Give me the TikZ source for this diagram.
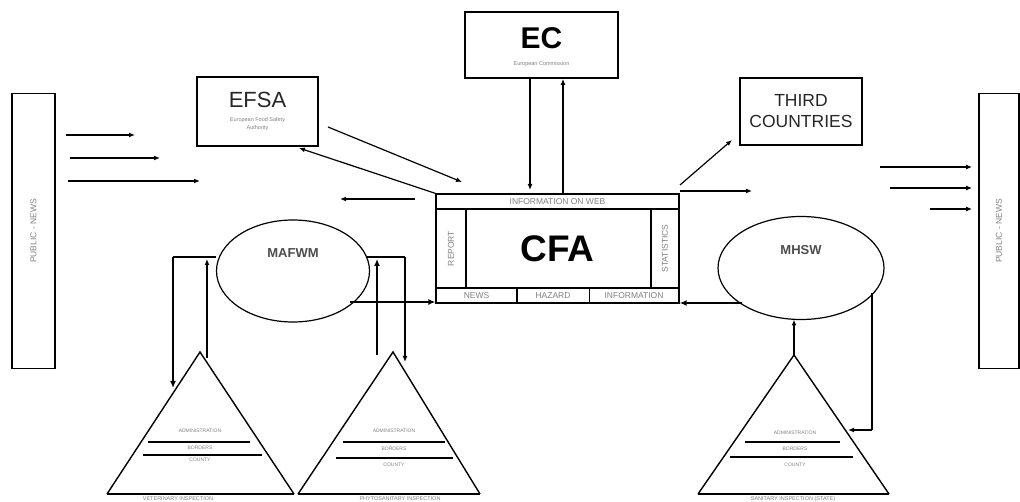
\documentclass[tikz,border=0pt]{standalone}
\usepackage{fontspec}
\setmainfont{Liberation Sans}
\usetikzlibrary{arrows.meta,shapes.geometric,calc}
\begin{document}
\begin{tikzpicture}[x=1pt,y=-1pt,
  box/.style={draw, line width=1.8pt, inner sep=0pt},
  cell/.style={draw, line width=1.1pt, inner sep=0pt},
  oval/.style={draw, ellipse, line width=1.2pt, inner sep=0pt},
  tri/.style={line width=1.4pt, line join=miter},
  base/.style={line width=2.4pt},
  level/.style={line width=1.6pt},
  thinarrow/.style={-{Latex[length=6pt,width=5pt]}, line width=1.2pt},
  thickarrow/.style={-{Latex[length=7pt,width=6pt]}, line width=2.3pt},
  plainline/.style={line width=1.2pt},
  thickline/.style={line width=2.3pt},
  greytxt/.style={text=black!50, inner sep=0pt},
  tiny/.style={greytxt, font=\fontsize{5}{6}\selectfont},
  small/.style={greytxt, font=\fontsize{6}{7}\selectfont},
  label/.style={greytxt, font=\fontsize{8.5}{10}\selectfont},
  bottomlabel/.style={greytxt, font=\fontsize{5.5}{6}\selectfont, anchor=north},
  ]
\useasboundingbox (0,0) rectangle (1020,502);

% PUBLIC - NEWS boxes
\node[box, minimum width=43pt, minimum height=275pt] (lpn) at (33.5,231) {};
\node[label, rotate=90] at (lpn) {PUBLIC - NEWS};
\node[box, minimum width=40pt, minimum height=275pt] (rpn) at (999,231) {};
\node[label, rotate=90] at (rpn) {PUBLIC - NEWS};

% EFSA
\node[box, minimum width=121pt, minimum height=69pt] (efsa) at (257.5,111.5) {};
\node[inner sep=0pt, font=\fontsize{22}{24}\selectfont, text=black!85] (efsat) at (257.5,100) {EFSA};
\node[small, align=center, font=\fontsize{5.5}{8}\selectfont] (efsas) at (257.5,124) {European Food Safety\\Authority};

% EC
\node[box, minimum width=153pt, minimum height=66pt] (ec) at (541.5,45) {};
\node[inner sep=0pt, font=\fontsize{30}{32}\bfseries\selectfont] (ect) at (541.5,38) {EC};
\node[small, font=\fontsize{5.5}{7}\selectfont] (ecs) at (541.5,64) {European Commission};

% THIRD COUNTRIES
\node[box, minimum width=122pt, minimum height=67pt] (tc) at (801,111.5) {};
\node[inner sep=0pt, align=center, font=\fontsize{17.5}{21}\selectfont, text=black!85] (tct) at (801,111.5) {THIRD\\COUNTRIES};

% CFA
\node[box, line width=1.3pt, minimum width=243pt, minimum height=109pt] (cfa) at (557.5,248.5) {};
\node[cell, minimum width=243pt, minimum height=15pt] (web) at (557.5,201.5) {};
\node[label] at (web) {INFORMATION ON WEB};
\node[cell, minimum width=30pt, minimum height=79pt] (rep) at (451,248.5) {};
\node[label, rotate=90] at (rep) {REPORT};
\node[cell, minimum width=28pt, minimum height=79pt] (sta) at (665,248.5) {};
\node[label, rotate=90] at (sta) {STATISTICS};
\node[cell, minimum width=81pt, minimum height=15pt] (news) at (476.5,295.5) {};
\node[label] at (news) {NEWS};
\node[cell, minimum width=73pt, minimum height=15pt] (haz) at (553,295.5) {};
\node[label] at (haz) {HAZARD};
\node[cell, minimum width=89pt, minimum height=15pt] (inf) at (634,295.5) {};
\node[label] at (inf) {INFORMATION};
\node[inner sep=0pt, font=\fontsize{37}{40}\bfseries\selectfont] (cfat) at (557.5,248.5) {CFA};

% Ministries
\node[oval, minimum width=153pt, minimum height=102pt] (mafwm) at (293,271) {};
\node[inner sep=0pt, font=\fontsize{13}{15}\bfseries\selectfont, text=black!70] at (293,253) {MAFWM};
\node[oval, minimum width=166pt, minimum height=103pt] (mhsw) at (801,268) {};
\node[inner sep=0pt, font=\fontsize{13}{15}\bfseries\selectfont, text=black!70] at (801,250) {MHSW};

% Triangles
\coordinate (t1a) at (200,352); \coordinate (t1l) at (107,494); \coordinate (t1r) at (294,494);
\coordinate (t2a) at (393,352); \coordinate (t2l) at (298,494); \coordinate (t2r) at (480,494);
\coordinate (t3a) at (794,355); \coordinate (t3l) at (698,494); \coordinate (t3r) at (889,494);
\draw[tri] (t1l) -- (t1a) -- (t1r);
\draw[base] (t1l) -- (t1r);
\draw[tri] (t2l) -- (t2a) -- (t2r);
\draw[base] (t2l) -- (t2r);
\draw[tri] (t3l) -- (t3a) -- (t3r);
\draw[base] (t3l) -- (t3r);

% levels in triangles
\draw[level] (148,442) -- (250,442);
\draw[level] (143,455) -- (262,455);
\node[tiny] at (200,431) {ADMINISTRATION};
\node[tiny] at (200,448) {BORDERS};
\node[tiny] at (200,460) {COUNTY};
\draw[level] (343,442) -- (445,442);
\draw[level] (336,458) -- (453,458);
\node[tiny] at (394,431) {ADMINISTRATION};
\node[tiny] at (394,449) {BORDERS};
\node[tiny] at (394,465) {COUNTY};
\draw[level] (745,442) -- (840,442);
\draw[level] (730,457) -- (853,457);
\node[tiny] at (795,433) {ADMINISTRATION};
\node[tiny] at (795,449) {BORDERS};
\node[tiny] at (795,465) {COUNTY};

% labels under triangles
\node[bottomlabel] (l1) at (178,496.3) {VETERINARY INSPECTION};
\node[bottomlabel] (l2) at (400,496.3) {PHYTOSANITARY INSPECTION};
\node[bottomlabel] (l3) at (793,496.3) {SANITARY INSPECTION (STATE)};

% news arrows, left
\coordinate (la1) at (66,135); \coordinate (la1e) at (135,135);
\coordinate (la2) at (70,158); \coordinate (la2e) at (160,158);
\coordinate (la3) at (68,181); \coordinate (la3e) at (200,181);
\draw[thinarrow, line width=1.8pt] (la1) -- (la1e);
\draw[thinarrow, line width=1.8pt] (la2) -- (la2e);
\draw[thinarrow, line width=1.8pt] (la3) -- (la3e);
% news arrows, right
\coordinate (ra1) at (880,167); \coordinate (ra1e) at (rpn.west |- ra1);
\coordinate (ra2) at (890,188); \coordinate (ra2e) at (rpn.west |- ra2);
\coordinate (ra3) at (930,209); \coordinate (ra3e) at (rpn.west |- ra3);
\draw[thinarrow, line width=1.6pt] (ra1) -- ([xshift=-6pt]ra1e);
\draw[thinarrow, line width=2pt] (ra2) -- ([xshift=-6pt]ra2e);
\draw[thinarrow, line width=2pt] (ra3) -- ([xshift=-6pt]ra3e);

% EFSA <-> CFA
\coordinate (ef1) at (328,127); \coordinate (ef1e) at (462,182);
\draw[thinarrow] (ef1) -- (ef1e);
\draw[thinarrow] (cfa.north west) -- (299,148);
% EC <-> CFA
\draw[thinarrow] (ec.south -| 530,0) -- (530,190);
\draw[thinarrow] (563,193) -- (ec.south -| 563,0);
% CFA -> THIRD COUNTRIES
\coordinate (tcs) at (680,185); \coordinate (tce) at (732,140);
\draw[thinarrow] (tcs) -- (tce);
% CFA -> MHSW (web)
\coordinate (webe) at (752,191);
\draw[thinarrow] (cfa.north east |- webe) -- (webe);
% CFA -> MAFWM
\coordinate (mafin) at (340,199); \coordinate (mafinS) at (415,199);
\draw[thinarrow] (mafinS) -- (mafin);
% MAFWM -> CFA
\draw[thickarrow] (350,302) -- (cfa.south west |- 0,302);
% MHSW -> CFA
\draw[thickarrow] (742,303) -- (cfa.south east |- 0,303);

% MAFWM <-> triangles
\coordinate (ml) at (216,257); \coordinate (mr) at (367,257);
\draw[thickline] (ml) -- (173,257);
\draw[thickarrow] (173,257) -- (173,388);
\draw[thinarrow] (207,358) -- (207,259);
\draw[plainline] (mr) -- (405,257);
\draw[thinarrow] (405,257) -- (405,362);
\draw[thickarrow] (377,355) -- (377,259);

% MHSW <-> triangle
\coordinate (mhb) at (794,319.5);
\draw[thinarrow] (t3a) -- (mhb);
\coordinate (mhr) at (872,293);
\draw[plainline] (mhr) -- (872,430);
\draw[thinarrow] (872,430) -- (848,430);
\end{tikzpicture}
\end{document}
